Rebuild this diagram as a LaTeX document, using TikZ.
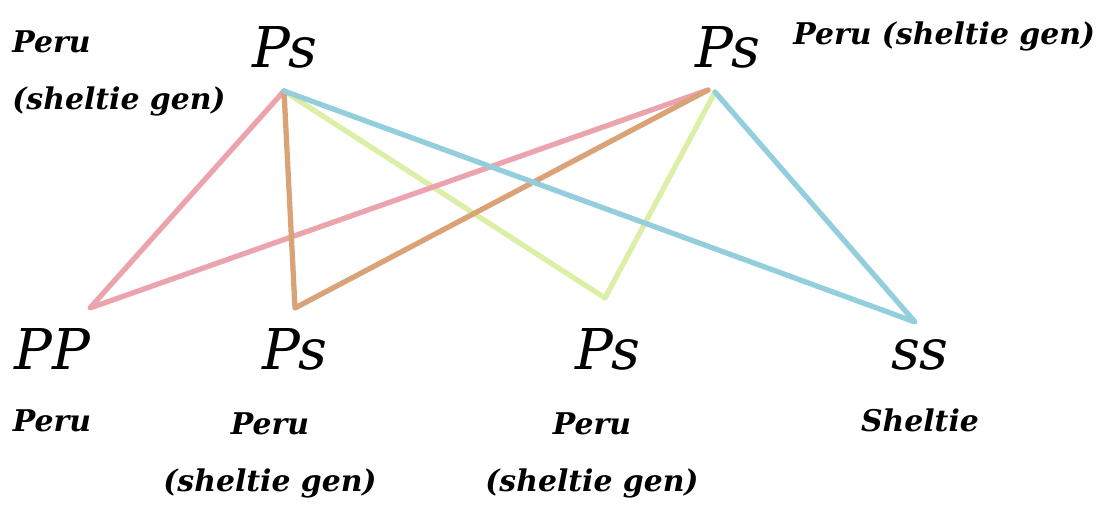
\documentclass[tikz,border=0pt]{standalone}
\usepackage{fontspec}
\setmainfont{DejaVu Serif}
\usetikzlibrary{positioning}
\definecolor{crosspink}{HTML}{EBA3AE}
\definecolor{crossorange}{HTML}{D9A377}
\definecolor{crossgreen}{HTML}{DCEFA6}
\definecolor{crossblue}{HTML}{93CEDD}

\begin{document}
\begin{tikzpicture}[
    x=0.02cm, y=-0.02cm,
    geno/.style={font=\fontsize{32}{36}\selectfont\itshape, inner sep=0pt},
    breed/.style={font=\fontsize{17}{33}\selectfont\bfseries\itshape,
        inner sep=0pt, align=center},
    cross/.style={line width=3pt, line join=round, line cap=round},
]
\useasboundingbox (0,0) rectangle (1099,506);

% ── Parents ────────────────────────────────────────────────────────────────
\node[geno, anchor=base] (mother) at (285,68) {Ps};
\node[breed, anchor=base west, align=left] (mother_lbl) at (12,110)
    {Peru\\(sheltie gen)};
\node[geno, anchor=base] (father) at (728,68) {Ps};
\node[breed, anchor=base west] (father_lbl) at (793,45) {Peru (sheltie gen)};

% ── Offspring ──────────────────────────────────────────────────────────────
\node[geno, anchor=base] (pp) at (52,370) {PP};
\node[geno, anchor=base] (ps_a) at (295,370) {Ps};
\node[geno, anchor=base] (ps_b) at (608,370) {Ps};
\node[geno, anchor=base] (ss) at (920,370) {ss};

\node[breed, anchor=base] (pp_lbl) at (52,432) {Peru};
\node[breed, anchor=base] (ps_a_lbl) at (270,492) {Peru\\(sheltie gen)};
\node[breed, anchor=base] (ps_b_lbl) at (592,492) {Peru\\(sheltie gen)};
\node[breed, anchor=base] (ss_lbl) at (920,432) {Sheltie};

% ── Line ends ──────────────────────────────────────────────────────────────
\coordinate (mother_v) at (284,91);
\coordinate (father_v) at (708,90);
\coordinate (father_vb) at (715,92);
\coordinate (pp_v) at (90,308);
\coordinate (ps_a_v) at (295,308);
\coordinate (ps_b_v) at (605,298);
\coordinate (ss_v) at (915,322);

% ── Crosses ────────────────────────────────────────────────────────────────
\draw[cross, crossgreen] (mother_v) -- (ps_b_v) -- (father_vb);
\draw[cross, crosspink] (mother_v) -- (pp_v) -- (father_v);
\draw[cross, crossorange] (mother_v) -- (ps_a_v) -- (father_v);
\draw[cross, crossblue] (mother_v) -- (ss_v) -- (father_vb);

\end{tikzpicture}
\end{document}
